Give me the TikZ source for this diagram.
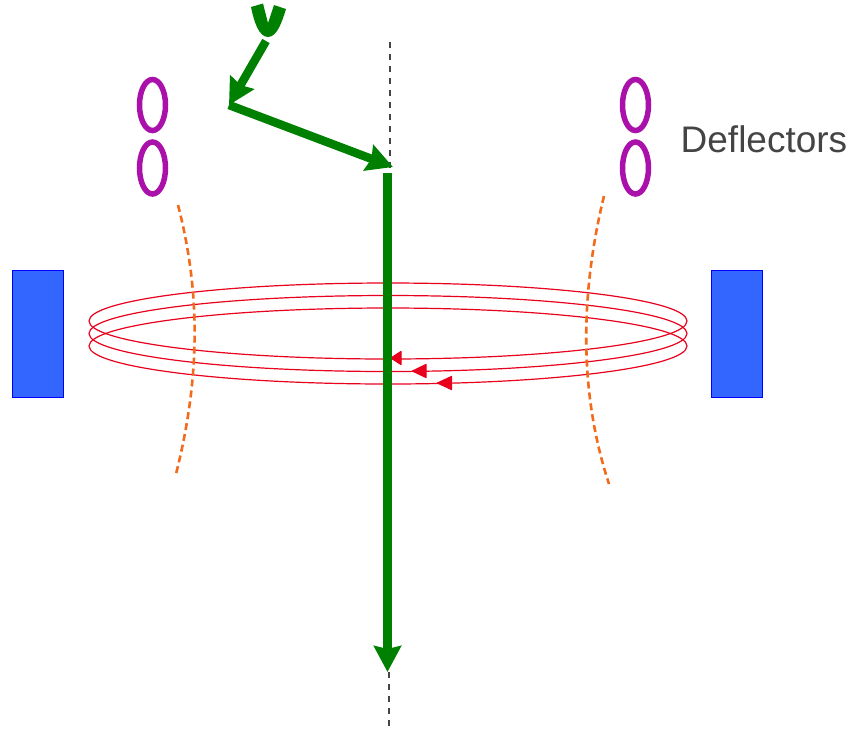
\documentclass[tikz,border=0pt]{standalone}
\usepackage{fontspec}
\setmainfont{Liberation Sans}
\usetikzlibrary{arrows.meta}
\definecolor{beamgreen}{HTML}{008000}
\definecolor{ringred}{HTML}{E8001C}
\definecolor{defl}{HTML}{AA11AA}
\definecolor{magblue}{HTML}{3366FF}
\definecolor{fieldorange}{HTML}{F26A1B}
\definecolor{axisgray}{HTML}{444444}
\tikzset{
  beam/.style={draw=beamgreen,line width=#1},
  beam/.default=8.5pt,
  beamtip/.style={-{Stealth[length=26pt,width=27pt,inset=3pt,fill=beamgreen,color=beamgreen]}},
  ring/.style={draw=ringred,line width=1.2pt},
  redtip/.style={draw=ringred,fill=ringred,line width=1.2pt,line join=round},
  deflector/.style={draw=defl,line width=5.5pt},
  magnet/.style={draw=blue,fill=magblue,line width=0.8pt},
  fieldline/.style={draw=fieldorange,line width=2.6pt,dash pattern=on 7pt off 4pt},
  axis/.style={draw=axisgray,line width=2pt,dash pattern=on 6pt off 6pt},
}
\begin{document}
\begin{tikzpicture}[x=1pt,y=-1pt]
\useasboundingbox (0,0) rectangle (854,732);
% coordinates
\coordinate (axisTop) at (389.5,42);
\coordinate (axisMid) at (389.5,168);
\coordinate (axisLow) at (389,672);
\coordinate (axisEnd) at (389,728);
\coordinate (b0) at (266,41);
\coordinate (b1) at (229,105);
\coordinate (b2) at (393,167);
\coordinate (b3) at (387.5,173);
\coordinate (b4) at (387.5,672);
% axis
\draw[axis] (axisTop) -- (axisMid);
\draw[axis] (axisLow) -- (axisEnd);
% magnets
\draw[magnet] (12.8,270) rectangle (63.8,397.5);
\draw[magnet] (711.8,270) rectangle (762.8,397.5);
% rings
\draw[ring] (388,321) ellipse [x radius=299,y radius=38];
\draw[ring] (388,333.5) ellipse [x radius=299,y radius=38];
\draw[ring] (388,346) ellipse [x radius=299,y radius=38];
\draw[redtip] (391,358) -- (401,351.5) -- (401,364.5) -- cycle;
\draw[redtip] (412.5,371) -- (426,364.5) -- (426,377.5) -- cycle;
\draw[redtip] (437.5,383) -- (451.5,376.5) -- (451.5,389.5) -- cycle;
% field lines
\draw[fieldline] (178,205) .. controls (200,290) and (201,375) .. (176,474);
\draw[fieldline] (604,196) .. controls (581,290) and (578,390) .. (609,484);
% deflectors
\draw[deflector] (152.5,105) ellipse [x radius=13,y radius=25.5];
\draw[deflector] (152.5,168) ellipse [x radius=13,y radius=26];
\draw[deflector] (635.5,105) ellipse [x radius=13,y radius=25.5];
\draw[deflector] (635.5,168) ellipse [x radius=13,y radius=26];
% beam
\fill[beamgreen] (251,7) -- (263,3.5) -- (268,23) -- (274,5) -- (286,9)
  .. controls (282,22) and (277,37) .. (268,37)
  .. controls (259,37) and (254,22) .. (251,7) -- cycle;
\draw[beam,beamtip] (b0) -- (b1);
\draw[beam,beamtip] (b1) -- (b2);
\draw[beam=9pt,beamtip] (b3) -- (b4);
% label
\node[anchor=base west,inner sep=0pt,text=axisgray,font=\fontsize{37pt}{40pt}\selectfont] (deflLabel) at (680.5,152.5) {Deflectors};
\end{tikzpicture}
\end{document}
